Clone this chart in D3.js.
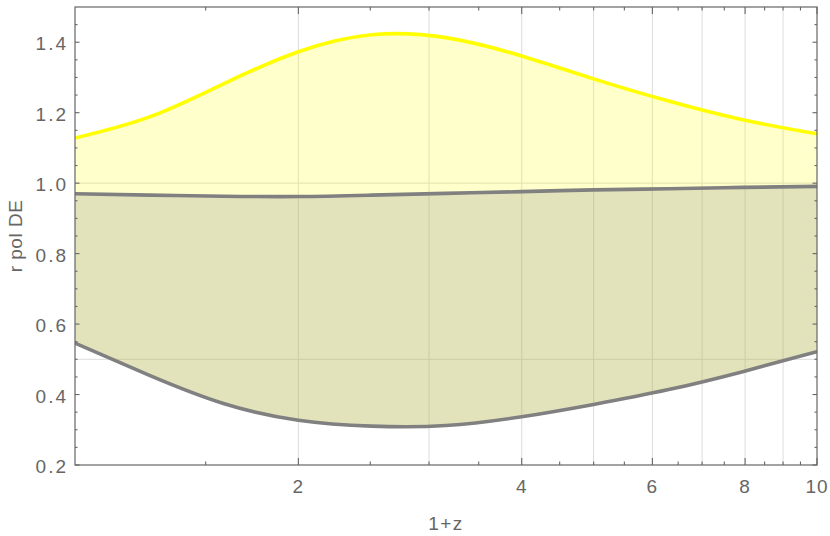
<!DOCTYPE html>
<html><head><meta charset="utf-8">
<script src="https://cdn.jsdelivr.net/npm/d3@7"></script>
<style>
html,body{margin:0;padding:0;background:#fff;}
text{font-family:"Liberation Sans",Arial,sans-serif;fill:#666;}
</style></head>
<body>
<svg id="chart" width="830" height="536"></svg>
<script>
// ---- data ----
const xValues = [1, 1.26, 1.585, 2, 2.51, 3.16, 4, 5, 6.31, 7.94, 10];
const upperValues = [1.128, 1.188, 1.282, 1.373, 1.421, 1.413, 1.361, 1.296, 1.233, 1.180, 1.140];
const middleValues = [0.970, 0.966, 0.963, 0.962, 0.966, 0.971, 0.976, 0.981, 0.984, 0.988, 0.991];
const lowerValues = [0.546, 0.4544, 0.3746, 0.327, 0.3104, 0.312, 0.337, 0.372, 0.414, 0.465, 0.522];
const xMajorTicks = [2, 4, 6, 8, 10];
const xMinorTicks = [1.5, 2.5, 3, 3.5, 4.5, 5, 5.5, 6.5, 7, 7.5, 8.5, 9, 9.5];
const xGrid = [2, 3, 4, 5, 6, 7, 8, 9];
const yMajorTicks = [0.2, 0.4, 0.6, 0.8, 1.0, 1.2, 1.4];
const yMinorTicks = [0.25, 0.3, 0.35, 0.45, 0.5, 0.55, 0.65, 0.7, 0.75, 0.85, 0.9, 0.95, 1.05, 1.1, 1.15, 1.25, 1.3, 1.35, 1.45];
const yGrid = [0.5, 1.0];
const xTitle = "1+z";
const yTitle = "r pol DE";

// ---- layout ----
const L = 75, R = 817, T = 7, B = 465;
const svg = d3.select("#chart");
const x = d3.scaleLog().domain([1, 10]).range([L, R]);
const y = d3.scaleLinear().domain([0.2, 1.5]).range([B, T]);
const frame = "#666";

const rows = xValues.map((v, i) => ({x: v, u: upperValues[i], m: middleValues[i], l: lowerValues[i]}));

// grid
svg.append("g").selectAll("line").data(xGrid).join("line")
  .attr("x1", d => x(d)).attr("x2", d => x(d)).attr("y1", T).attr("y2", B)
  .attr("stroke", "#dcdcdc").attr("stroke-width", 1);
svg.append("g").selectAll("line").data(yGrid).join("line")
  .attr("x1", L).attr("x2", R).attr("y1", d => y(d)).attr("y2", d => y(d))
  .attr("stroke", "#dcdcdc").attr("stroke-width", 1);

const curve = d3.curveNatural;
svg.append("clipPath").attr("id", "clip").append("rect")
  .attr("x", L).attr("y", T).attr("width", R - L).attr("height", B - T);
const plot = svg.append("g").attr("clip-path", "url(#clip)");

// fills
plot.append("path").datum(rows)
  .attr("d", d3.area().x(d => x(d.x)).y0(d => y(d.l)).y1(d => y(d.u)).curve(curve))
  .attr("fill", "#ffff00").attr("fill-opacity", 0.2);
plot.append("path").datum(rows)
  .attr("d", d3.area().x(d => x(d.x)).y0(d => y(d.l)).y1(d => y(d.m)).curve(curve))
  .attr("fill", "#808080").attr("fill-opacity", 0.22);

// lines
const line = key => d3.line().x(d => x(d.x)).y(d => y(d[key])).curve(curve);
plot.append("path").datum(rows).attr("d", line("m"))
  .attr("fill", "none").attr("stroke", "#808080").attr("stroke-width", 3.6);
plot.append("path").datum(rows).attr("d", line("l"))
  .attr("fill", "none").attr("stroke", "#808080").attr("stroke-width", 3.6);
plot.append("path").datum(rows).attr("d", line("u"))
  .attr("fill", "none").attr("stroke", "#ffff00").attr("stroke-width", 3.6);

// frame
svg.append("rect").attr("x", L).attr("y", T).attr("width", R - L).attr("height", B - T)
  .attr("fill", "none").attr("stroke", frame).attr("stroke-width", 1.2);

// ticks (inward, mirrored)
function xTicks(vals, len) {
  const g = svg.append("g");
  g.selectAll("l1").data(vals).join("line")
    .attr("x1", d => x(d)).attr("x2", d => x(d)).attr("y1", B).attr("y2", B - len)
    .attr("stroke", frame).attr("stroke-width", 1.1);
  g.selectAll("l2").data(vals).join("line")
    .attr("x1", d => x(d)).attr("x2", d => x(d)).attr("y1", T).attr("y2", T + len)
    .attr("stroke", frame).attr("stroke-width", 1.1);
}
function yTicks(vals, len) {
  const g = svg.append("g");
  g.selectAll("l1").data(vals).join("line")
    .attr("x1", L).attr("x2", L + len).attr("y1", d => y(d)).attr("y2", d => y(d))
    .attr("stroke", frame).attr("stroke-width", 1.1);
  g.selectAll("l2").data(vals).join("line")
    .attr("x1", R).attr("x2", R - len).attr("y1", d => y(d)).attr("y2", d => y(d))
    .attr("stroke", frame).attr("stroke-width", 1.1);
}
xTicks(xMajorTicks, 7);
xTicks(xMinorTicks, 3.5);
yTicks(yMajorTicks, 4.5);
yTicks(yMinorTicks, 2.5);

// tick labels
svg.append("g").selectAll("text").data(xMajorTicks).join("text")
  .attr("x", d => x(d)).attr("y", 493).attr("text-anchor", "middle")
  .style("font-size", "19px").style("letter-spacing", "1px")
  .text(d => d3.format("d")(d));
svg.append("g").selectAll("text").data(yMajorTicks).join("text")
  .attr("x", 68).attr("y", d => y(d) + 8).attr("text-anchor", "end")
  .style("font-size", "19px").style("letter-spacing", "2px")
  .text(d => d3.format(".1f")(d));

// titles
svg.append("text").attr("x", (L + R) / 2).attr("y", 530).attr("text-anchor", "middle")
  .style("font-size", "19px").style("letter-spacing", "1.5px").text(xTitle);
svg.append("text").attr("transform", `translate(22,${(T + B) / 2}) rotate(-90)`)
  .attr("text-anchor", "middle").style("font-size", "19px").style("letter-spacing", "0.5px")
  .text(yTitle);
</script>
</body></html>
